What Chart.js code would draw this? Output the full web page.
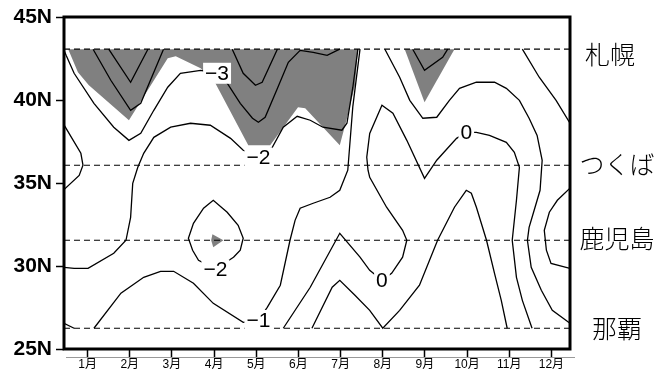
<!DOCTYPE html>
<html>
<head>
<meta charset="utf-8">
<script src="https://cdn.jsdelivr.net/npm/chart.js@4.4.0/dist/chart.umd.min.js"></script>
<style>
  html, body { margin: 0; padding: 0; background: #fff; }
  #wrap { width: 660px; height: 371px; }
</style>
</head>
<body>
<div id="wrap"><canvas id="chart" width="660" height="371"></canvas></div>
<script>
(function () {
  "use strict";

  // 横軸：月、縦軸：緯度
  const months = [1, 2, 3, 4, 5, 6, 7, 8, 9, 10, 11, 12];
  const monthLabels = ["1月", "2月", "3月", "4月", "5月", "6月", "7月", "8月", "9月", "10月", "11月", "12月"];
  const latTicks = [25, 30, 35, 40, 45];
  const monthMin = 0.44;
  const monthMax = 12.44;

  const stationNames = ["札幌", "つくば", "鹿児島", "那覇"];
  const stationLats = [43.06, 36.07, 31.55, 26.25];

  // 等値線ラベル
  const contourLabels = ["−3", "−2", "−2", "−1", "0", "0"];
  const contourLabelPos = [[4.07, 41.64], [5.05, 36.55], [4.03, 29.8], [5.05, 26.75], [7.98, 29.14], [9.98, 38.05]];

  // 陰影域（[月, 緯度]）
  const shadeMain = [[0.54, 43.06], [0.77, 41.67], [1.03, 40.89], [1.98, 38.78], [2.90, 42.51], [3.09, 42.63],
    [3.68, 41.91], [4.03, 41.01], [4.81, 37.27], [5.33, 37.27], [5.99, 39.56], [6.16, 39.50], [6.98, 37.27],
    [7.17, 39.08], [7.34, 40.89], [7.41, 43.06], [0.54, 43.06]];
  const shadeSep = [[8.52, 43.06], [8.99, 39.86], [9.70, 43.06], [8.52, 43.06]];
  const shadeDot = [[3.93, 31.55], [3.96, 31.91], [4.22, 31.55], [3.98, 31.13], [3.93, 31.55]];

  // 等値線（[月, 緯度]）
  const lineM3Inner = [[1.50, 43.06], [2.02, 41.07], [2.43, 43.06]];
  const lineM3Mid = [[1.13, 43.06], [1.55, 41.19], [2.02, 39.38], [2.26, 39.80], [2.80, 43.06]];
  const lineM3 = [[0.44, 43.0], [0.49, 42.69], [0.68, 41.61], [1.15, 39.80], [1.62, 38.36], [1.98, 37.57],
    [2.26, 37.99], [2.57, 39.38], [2.90, 40.77], [3.20, 41.61], [3.68, 41.79], [4.07, 41.6], [4.31, 41.01],
    [4.62, 39.80], [4.91, 38.90], [5.05, 38.66], [5.21, 38.96], [5.50, 40.70], [5.76, 42.27], [6.04, 42.99],
    [6.35, 42.87], [6.68, 42.69], [6.98, 43.06]];
  const lineM3Inner2 = [[4.43, 43.06], [4.69, 41.61], [4.98, 40.89], [5.14, 41.07], [5.50, 43.06]];
  const lineM2 = [[0.44, 29.92], [0.68, 29.86], [1.01, 29.86], [1.62, 30.77], [1.91, 31.55], [2.02, 32.93],
    [2.07, 34.98], [2.19, 35.95], [2.33, 36.79], [2.57, 37.75], [2.97, 38.36], [3.44, 38.60], [3.91, 38.48],
    [4.39, 37.69], [4.69, 36.97], [5.05, 36.6], [5.38, 37.15], [5.64, 38.36], [5.97, 39.02], [6.28, 38.78],
    [6.58, 38.36], [7.03, 38.18], [7.15, 38.60], [7.29, 40.77], [7.41, 43.06]];
  const lineM1 = [[1.15, 26.25], [1.79, 28.36], [2.33, 29.32], [2.73, 29.68], [3.04, 29.68], [3.51, 28.96],
    [3.98, 27.75], [4.69, 26.61], [5.05, 26.73], [5.26, 27.51], [5.57, 28.84], [5.80, 31.55], [5.92, 32.75],
    [6.04, 33.48], [6.35, 33.78], [6.75, 34.14], [6.98, 34.56], [7.17, 35.77], [7.29, 39.62], [7.46, 43.06]];
  const lineM1Right = [[8.05, 43.06], [8.40, 41.37], [8.64, 39.98], [8.95, 38.90], [9.28, 38.96], [9.58, 39.98],
    [9.82, 40.70], [10.22, 41.07], [10.65, 41.07], [10.93, 40.70], [11.24, 39.98], [11.47, 38.90], [11.66, 37.87],
    [11.78, 36.37], [11.73, 34.56], [11.59, 33.36], [11.47, 32.33], [11.43, 31.55], [11.52, 29.92], [11.76, 28.54],
    [12.02, 27.33], [12.44, 26.55]];
  const lineSepInner = [[8.71, 43.06], [8.99, 41.79], [9.42, 42.57], [9.54, 43.06]];
  const lineTopRight = [[11.31, 43.06], [11.71, 41.37], [12.11, 39.98], [12.44, 38.60]];
  const lineZero = [[5.64, 26.25], [6.28, 28.72], [6.98, 31.97], [7.46, 30.53], [7.69, 29.74], [7.98, 29.14],
    [8.21, 29.56], [8.47, 30.53], [8.57, 31.55], [8.47, 32.15], [8.09, 33.54], [7.69, 35.34], [7.65, 35.77],
    [7.62, 36.55], [7.69, 37.99], [7.98, 39.68], [8.24, 39.20], [8.57, 37.57], [8.99, 35.28], [9.28, 36.37],
    [9.75, 37.69], [9.98, 38.05], [10.22, 38.05], [10.53, 37.87], [10.93, 37.45], [11.12, 36.85], [11.24, 35.95],
    [11.17, 33.96], [11.07, 31.55], [11.17, 29.32], [11.31, 27.93], [11.54, 26.25]];
  const lineP1 = [[6.32, 26.25], [6.80, 28.72], [6.98, 29.14], [7.34, 28.24], [7.69, 27.33], [8.00, 26.25],
    [8.40, 27.33], [8.87, 28.84], [9.30, 31.55], [9.70, 33.54], [9.98, 34.56], [10.10, 34.38], [10.22, 33.54],
    [10.46, 31.55], [10.65, 29.56], [10.81, 27.93], [10.95, 26.25]];
  const loopM2 = [[4.46, 30.53], [4.62, 30.95], [4.69, 31.67], [4.57, 32.45], [4.31, 33.24], [3.98, 33.96],
    [3.75, 33.48], [3.51, 32.57], [3.39, 31.67], [3.49, 30.95], [3.63, 30.34], [4.03, 29.8], [4.46, 30.53]];
  const bumpLeft = [[0.44, 38.5], [0.84, 36.79], [0.89, 36.07], [0.80, 35.46], [0.44, 34.6]];
  const cornerM1 = [[0.44, 26.55], [0.68, 26.25]];
  const bumpRight = [[12.44, 34.69], [12.14, 33.96], [11.95, 33.24], [11.83, 32.15], [11.88, 30.95],
    [11.99, 30.16], [12.44, 29.86]];

  const contourLines = [lineM3Inner, lineM3Mid, lineM3, lineM3Inner2, lineM2, lineM1, lineM1Right,
    lineSepInner, lineTopRight, lineZero, lineP1, loopM2, bumpLeft, cornerM1, bumpRight];
  const shades = [shadeMain, shadeSep, shadeDot];

  // 地点名の表示ずれ（px）
  const stationNudge = [[-7, 4], [0, -2], [0, -3], [0, -1]];

  function toXY(points) {
    return points.map((p) => ({ x: p[0], y: p[1] }));
  }

  const datasets = [];

  shades.forEach((pts) => {
    datasets.push({
      data: toXY(pts),
      showLine: true,
      fill: "shape",
      backgroundColor: "#808080",
      borderColor: "rgba(0,0,0,0)",
      borderWidth: 0,
      pointRadius: 0,
      order: 5
    });
  });

  stationLats.forEach((lat) => {
    datasets.push({
      data: [{ x: monthMin, y: lat }, { x: monthMax, y: lat }],
      showLine: true,
      borderColor: "#000",
      borderWidth: 1.2,
      borderDash: [6, 4],
      pointRadius: 0,
      order: 2
    });
  });

  contourLines.forEach((pts) => {
    datasets.push({
      data: toXY(pts),
      showLine: true,
      borderColor: "#000",
      borderWidth: 1.3,
      pointRadius: 0,
      fill: false,
      order: 1
    });
  });

  const overlay = {
    id: "overlay",
    afterDatasetsDraw(chart) {
      const { ctx, scales } = chart;
      ctx.save();
      ctx.font = "21px 'Liberation Sans', Arial, sans-serif";
      ctx.textAlign = "center";
      ctx.textBaseline = "middle";
      contourLabels.forEach((t, i) => {
        const x = scales.x.getPixelForValue(contourLabelPos[i][0]);
        const y = scales.y.getPixelForValue(contourLabelPos[i][1]);
        const w = ctx.measureText(t).width + 4;
        ctx.fillStyle = "#fff";
        ctx.fillRect(x - w / 2, y - 10, w, 21);
        ctx.fillStyle = "#000";
        ctx.fillText(t, x, y + 1);
      });
      ctx.restore();
    },
    afterDraw(chart) {
      const { ctx, chartArea, scales } = chart;
      ctx.save();
      // 横軸下の細線
      ctx.strokeStyle = "#999";
      ctx.lineWidth = 1;
      ctx.beginPath();
      ctx.moveTo(chartArea.left + 2, chartArea.bottom + 8.5);
      ctx.lineTo(chartArea.right + 5, chartArea.bottom + 8.5);
      ctx.stroke();
      // 枠
      ctx.strokeStyle = "#000";
      ctx.lineWidth = 3;
      ctx.strokeRect(chartArea.left, chartArea.top, chartArea.right - chartArea.left, chartArea.bottom - chartArea.top);
      // 地点名
      ctx.fillStyle = "#000";
      ctx.font = "300 25px 'Noto Sans CJK JP', sans-serif";
      ctx.textAlign = "center";
      ctx.textBaseline = "middle";
      stationNames.forEach((name, i) => {
        const y = scales.y.getPixelForValue(stationLats[i]);
        ctx.fillText(name, chartArea.right + 47 + stationNudge[i][0], y + 1 + stationNudge[i][1]);
      });
      ctx.restore();
    }
  };

  new Chart(document.getElementById("chart"), {
    type: "scatter",
    data: { datasets },
    options: {
      responsive: false,
      animation: false,
      layout: { padding: { top: 17, right: 90, left: 0, bottom: 0 } },
      plugins: {
        legend: { display: false },
        tooltip: { enabled: false }
      },
      elements: { line: { tension: 0 } },
      scales: {
        x: {
          type: "linear",
          min: monthMin,
          max: monthMax,
          afterFit(scale) { scale.height = 22; },
          afterBuildTicks(scale) { scale.ticks = months.map((v) => ({ value: v })); },
          ticks: {
            autoSkip: false,
            maxRotation: 0,
            padding: 0,
            color: "#000",
            font: { family: "'Liberation Sans', 'Noto Sans CJK JP', sans-serif", size: 12 },
            callback: (value, index) => monthLabels[index]
          },
          grid: { drawOnChartArea: false, drawTicks: true, tickLength: 8, tickColor: "#000", tickWidth: 1.5 },
          border: { display: false }
        },
        y: {
          min: 25,
          max: 45,
          afterFit(scale) { scale.width = 64; },
          afterBuildTicks(scale) { scale.ticks = latTicks.map((v) => ({ value: v })); },
          ticks: {
            padding: 4,
            color: "#000",
            font: { family: "'Liberation Sans', Arial, sans-serif", size: 21, weight: "bold" },
            callback: (value) => value + "N"
          },
          grid: { drawOnChartArea: false, drawTicks: true, tickLength: 8, tickColor: "#000", tickWidth: 1.5 },
          border: { display: false }
        }
      }
    },
    plugins: [overlay]
  });
})();
</script>
</body>
</html>
